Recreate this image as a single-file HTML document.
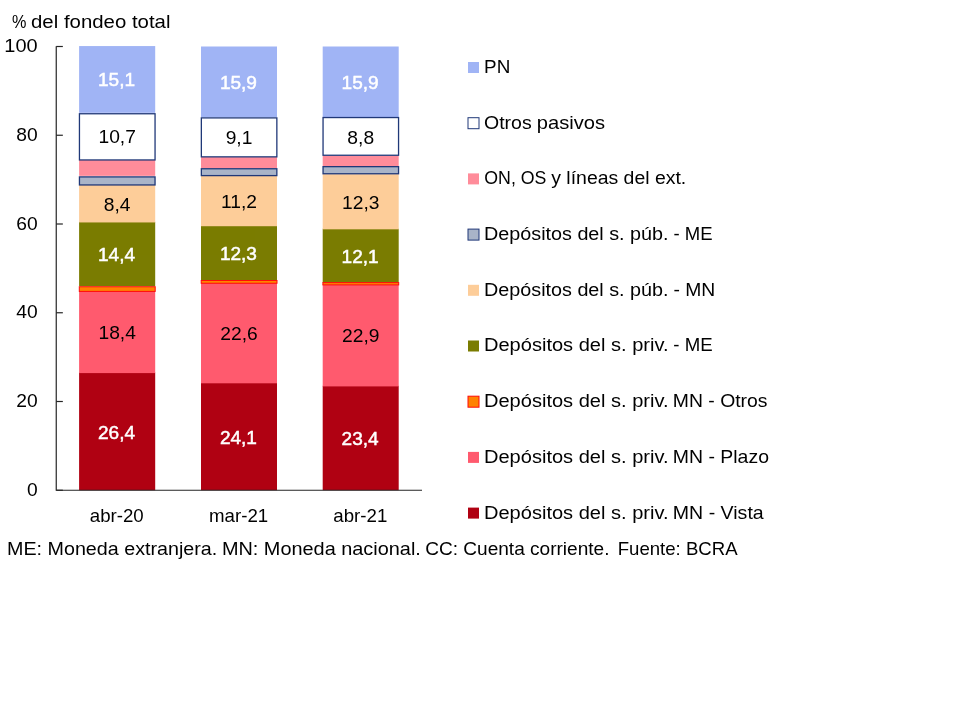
<!DOCTYPE html>
<html><head><meta charset="utf-8"><title>chart</title>
<style>
html,body{margin:0;padding:0;background:#fff;}
body{width:960px;height:720px;overflow:hidden;}
svg{display:block;will-change:transform;opacity:0.999;}
text{font-family:"Liberation Sans",sans-serif;font-size:18.67px;}
</style></head><body>
<svg width="960" height="720" viewBox="0 0 960 720">
<rect width="960" height="720" fill="#fff"/>
<rect x="79.10" y="372.50" width="76.10" height="117.75" fill="#B00012"/>
<rect x="79.10" y="290.85" width="76.10" height="82.25" fill="#FF5A6E"/>
<rect x="79.10" y="221.85" width="76.10" height="64.50" fill="#7A7C00"/>
<rect x="79.10" y="184.57" width="76.10" height="37.88" fill="#FDCD99"/>
<rect x="79.10" y="159.72" width="76.10" height="16.13" fill="#FF8C9A"/>
<rect x="79.10" y="46.06" width="76.10" height="66.78" fill="#A0B4F5"/>
<rect x="79.45" y="113.75" width="75.60" height="46.20" fill="#FFFFFF" stroke="#203878" stroke-width="1.3"/>
<rect x="79.45" y="176.90" width="75.60" height="8.05" fill="#A9B4C8" stroke="#203878" stroke-width="1.3"/>
<rect x="79.30" y="286.75" width="75.90" height="4.65" fill="#FF8200" stroke="#FF0A0A" stroke-width="1.0"/>
<text transform="translate(116.55 438.57)" text-anchor="middle" fill="#fff" stroke="#fff" stroke-width="0.5" style="font-size:19.05px">26,4</text>
<text transform="translate(117.15 339.07) scale(1.0300 1)" text-anchor="middle" fill="#000">18,4</text>
<text transform="translate(116.55 261.30)" text-anchor="middle" fill="#fff" stroke="#fff" stroke-width="0.5" style="font-size:19.05px">14,4</text>
<text transform="translate(117.15 210.61) scale(1.0300 1)" text-anchor="middle" fill="#000">8,4</text>
<text transform="translate(117.15 143.38) scale(1.0300 1)" text-anchor="middle" fill="#000">10,7</text>
<text transform="translate(116.55 86.35)" text-anchor="middle" fill="#fff" stroke="#fff" stroke-width="0.5" style="font-size:19.05px">15,1</text>
<text transform="translate(116.75 521.60) scale(1.0000 1)" text-anchor="middle" fill="#000">abr-20</text>
<rect x="201.00" y="382.71" width="76.00" height="107.54" fill="#B00012"/>
<rect x="201.00" y="282.42" width="76.00" height="100.89" fill="#FF5A6E"/>
<rect x="201.00" y="225.62" width="76.00" height="55.18" fill="#7A7C00"/>
<rect x="201.00" y="175.92" width="76.00" height="50.30" fill="#FDCD99"/>
<rect x="201.00" y="157.06" width="76.00" height="11.25" fill="#FF8C9A"/>
<rect x="201.00" y="46.50" width="76.00" height="70.78" fill="#A0B4F5"/>
<rect x="201.35" y="117.90" width="75.50" height="38.95" fill="#FFFFFF" stroke="#203878" stroke-width="1.3"/>
<rect x="201.35" y="168.75" width="75.50" height="6.85" fill="#A9B4C8" stroke="#203878" stroke-width="1.3"/>
<rect x="201.20" y="280.50" width="75.80" height="2.75" fill="#FF8200" stroke="#FF0A0A" stroke-width="1.0"/>
<text transform="translate(238.40 443.68)" text-anchor="middle" fill="#fff" stroke="#fff" stroke-width="0.5" style="font-size:19.05px">24,1</text>
<text transform="translate(239.00 339.96) scale(1.0300 1)" text-anchor="middle" fill="#000">22,6</text>
<text transform="translate(238.40 260.41)" text-anchor="middle" fill="#fff" stroke="#fff" stroke-width="0.5" style="font-size:19.05px">12,3</text>
<text transform="translate(239.00 208.17) scale(1.0300 1)" text-anchor="middle" fill="#000">11,2</text>
<text transform="translate(239.00 144.27) scale(1.0300 1)" text-anchor="middle" fill="#000">9,1</text>
<text transform="translate(238.40 88.79)" text-anchor="middle" fill="#fff" stroke="#fff" stroke-width="0.5" style="font-size:19.05px">15,9</text>
<text transform="translate(238.60 521.60) scale(1.0000 1)" text-anchor="middle" fill="#000">mar-21</text>
<rect x="322.70" y="385.81" width="76.00" height="104.44" fill="#B00012"/>
<rect x="322.70" y="284.19" width="76.00" height="102.22" fill="#FF5A6E"/>
<rect x="322.70" y="228.72" width="76.00" height="54.29" fill="#7A7C00"/>
<rect x="322.70" y="174.14" width="76.00" height="55.18" fill="#FDCD99"/>
<rect x="322.70" y="155.73" width="76.00" height="10.58" fill="#FF8C9A"/>
<rect x="322.70" y="46.50" width="76.00" height="70.78" fill="#A0B4F5"/>
<rect x="323.05" y="117.55" width="75.50" height="37.70" fill="#FFFFFF" stroke="#203878" stroke-width="1.3"/>
<rect x="323.05" y="166.65" width="75.50" height="7.10" fill="#A9B4C8" stroke="#203878" stroke-width="1.3"/>
<rect x="322.90" y="282.60" width="75.80" height="2.30" fill="#FF8200" stroke="#FF0A0A" stroke-width="1.0"/>
<text transform="translate(360.10 445.23)" text-anchor="middle" fill="#fff" stroke="#fff" stroke-width="0.5" style="font-size:19.05px">23,4</text>
<text transform="translate(360.70 342.40) scale(1.0300 1)" text-anchor="middle" fill="#000">22,9</text>
<text transform="translate(360.10 263.07)" text-anchor="middle" fill="#fff" stroke="#fff" stroke-width="0.5" style="font-size:19.05px">12,1</text>
<text transform="translate(360.70 208.83) scale(1.0300 1)" text-anchor="middle" fill="#000">12,3</text>
<text transform="translate(360.70 143.60) scale(1.0300 1)" text-anchor="middle" fill="#000">8,8</text>
<text transform="translate(360.10 88.79)" text-anchor="middle" fill="#fff" stroke="#fff" stroke-width="0.5" style="font-size:19.05px">15,9</text>
<text transform="translate(360.30 521.60) scale(1.0000 1)" text-anchor="middle" fill="#000">abr-21</text>
<g stroke="#262626" stroke-width="1.2" fill="none">
<path d="M56.25 46.20 V490.25 H422.00"/>
<path d="M56.25 490.25 H62.85"/>
<path d="M56.25 401.50 H62.85"/>
<path d="M56.25 312.75 H62.85"/>
<path d="M56.25 224.00 H62.85"/>
<path d="M56.25 135.25 H62.85"/>
<path d="M56.25 46.50 H62.85"/>
</g>
<text transform="translate(37.60 495.75) scale(1.0300 1)" text-anchor="end" fill="#000">0</text>
<text transform="translate(37.60 407.00) scale(1.0300 1)" text-anchor="end" fill="#000">20</text>
<text transform="translate(37.60 318.25) scale(1.0300 1)" text-anchor="end" fill="#000">40</text>
<text transform="translate(37.60 229.50) scale(1.0300 1)" text-anchor="end" fill="#000">60</text>
<text transform="translate(37.60 140.75) scale(1.0300 1)" text-anchor="end" fill="#000">80</text>
<text transform="translate(37.60 52.00) scale(1.0700 1)" text-anchor="end" fill="#000">100</text>
<text transform="translate(11.95 27.70) scale(0.8680 1)" text-anchor="start" fill="#000">%</text>
<text transform="translate(31.03 27.70) scale(1.0926 1)" text-anchor="start" fill="#000">del fondeo total</text>
<rect x="468" y="62.00" width="11" height="11" fill="#A0B4F5"/>
<text transform="translate(484.08 72.90) scale(1.0098 1)" fill="#000">PN</text>
<rect x="468.00" y="117.70" width="11" height="11" fill="#FFFFFF" stroke="#203878" stroke-width="1"/>
<text transform="translate(484.01 128.60) scale(1.0442 1)" fill="#000">Otros</text>
<text transform="translate(536.80 128.60) scale(1.0786 1)" fill="#000">pasivos</text>
<rect x="468" y="173.40" width="11" height="11" fill="#FF8C9A"/>
<text transform="translate(484.29 184.30) scale(0.9502 1)" fill="#000">ON, OS</text>
<text transform="translate(551.25 184.30) scale(1.0415 1)" fill="#000">y líneas del ext.</text>
<rect x="468.00" y="229.10" width="11" height="11" fill="#A9B4C8" stroke="#203878" stroke-width="1"/>
<text transform="translate(484.01 240.00) scale(1.0591 1)" fill="#000">Depósitos del s. púb.</text>
<text transform="translate(673.51 240.00) scale(0.9923 1)" fill="#000">- ME</text>
<rect x="468" y="284.80" width="11" height="11" fill="#FDCD99"/>
<text transform="translate(484.01 295.70) scale(1.0591 1)" fill="#000">Depósitos del s. púb.</text>
<text transform="translate(673.47 295.70) scale(1.0343 1)" fill="#000">- MN</text>
<rect x="468" y="340.50" width="11" height="11" fill="#7A7C00"/>
<text transform="translate(483.99 351.40) scale(1.0745 1)" fill="#000">Depósitos del s. priv.</text>
<text transform="translate(673.30 351.40) scale(0.9976 1)" fill="#000">- ME</text>
<rect x="468.00" y="396.20" width="11" height="11" fill="#FF8200" stroke="#FF0A0A" stroke-width="1"/>
<text transform="translate(483.99 407.10) scale(1.0745 1)" fill="#000">Depósitos del s. priv.</text>
<text transform="translate(672.84 407.10) scale(1.0382 1)" fill="#000">MN - Otros</text>
<rect x="468" y="451.90" width="11" height="11" fill="#FF5A6E"/>
<text transform="translate(483.99 462.80) scale(1.0745 1)" fill="#000">Depósitos del s. priv.</text>
<text transform="translate(672.83 462.80) scale(1.0422 1)" fill="#000">MN - Plazo</text>
<rect x="468" y="507.60" width="11" height="11" fill="#B00012"/>
<text transform="translate(483.99 518.50) scale(1.0745 1)" fill="#000">Depósitos del s. priv.</text>
<text transform="translate(672.83 518.50) scale(1.0470 1)" fill="#000">MN - Vista</text>
<text transform="translate(7.01 554.80) scale(1.0558 1)" fill="#000">ME: Moneda extranjera.</text>
<text transform="translate(221.90 554.80) scale(1.0654 1)" fill="#000">MN: Moneda nacional.</text>
<text transform="translate(425.18 554.80) scale(1.0214 1)" fill="#000">CC: Cuenta corriente.</text>
<text transform="translate(617.70 554.80) scale(0.9968 1)" fill="#000">Fuente: BCRA</text>
</svg>
</body></html>
